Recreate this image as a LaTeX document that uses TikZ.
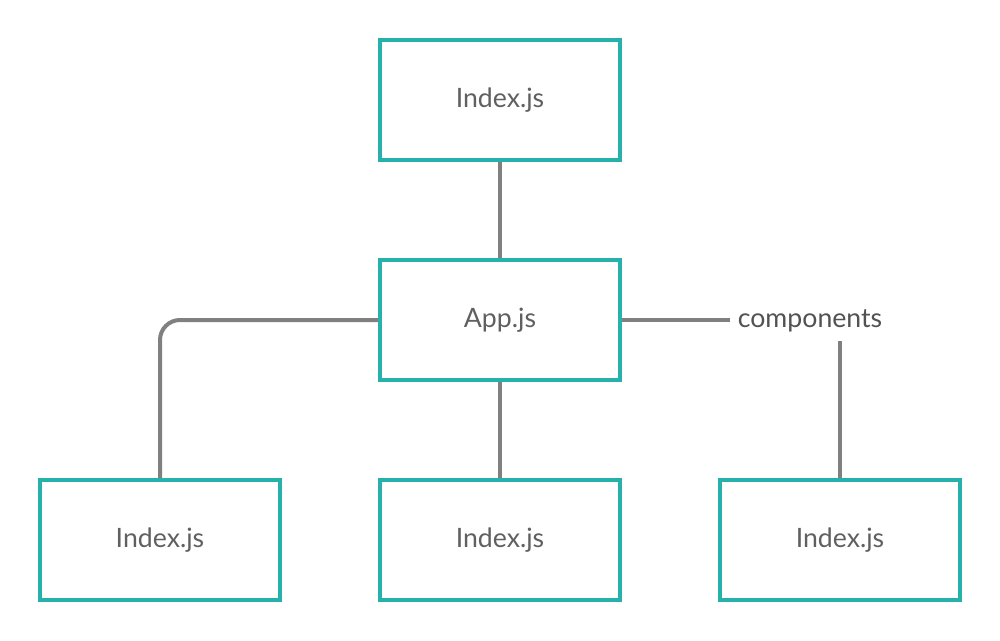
\documentclass[tikz,border=0pt]{standalone}
\usepackage{fontspec}
\setmainfont{Lato}
\usepackage{tikz}
\usetikzlibrary{positioning}
\definecolor{boxteal}{RGB}{38,178,170}
\definecolor{linegray}{RGB}{128,128,128}
\definecolor{textgray}{RGB}{96,96,96}
\tikzset{
  filebox/.style={draw=boxteal,line width=3pt,minimum width=180pt,minimum height=90pt,
    inner sep=0pt,text=textgray,font=\fontsize{20}{24}\selectfont},
  link/.style={draw=linegray,line width=3pt}
}
\begin{document}
\begin{tikzpicture}[x=0.75pt,y=-0.75pt]
\useasboundingbox (0,0) rectangle (1000,640);
\node[filebox] (index) at (500,100) {Index.js};
\node[filebox] (app) at (500,320) {App.js};
\node[filebox] (left) at (160,540) {Index.js};
\node[filebox] (mid) at (500,540) {Index.js};
\node[filebox] (right) at (840,540) {Index.js};
\node[text=textgray!85!black,font=\fontsize{20}{24}\selectfont,inner sep=6pt] (comp) at (810,321) {components};
\draw[link] (index.south) -- (app.north);
\draw[link] (app.south) -- (mid.north);
\draw[link,rounded corners=15pt] (app.west) -| (left.north);
\draw[link] (app.east) -- (app.east -| comp.west);
\draw[link] (right.north) -- (right.north |- comp.south);
\end{tikzpicture}
\end{document}
